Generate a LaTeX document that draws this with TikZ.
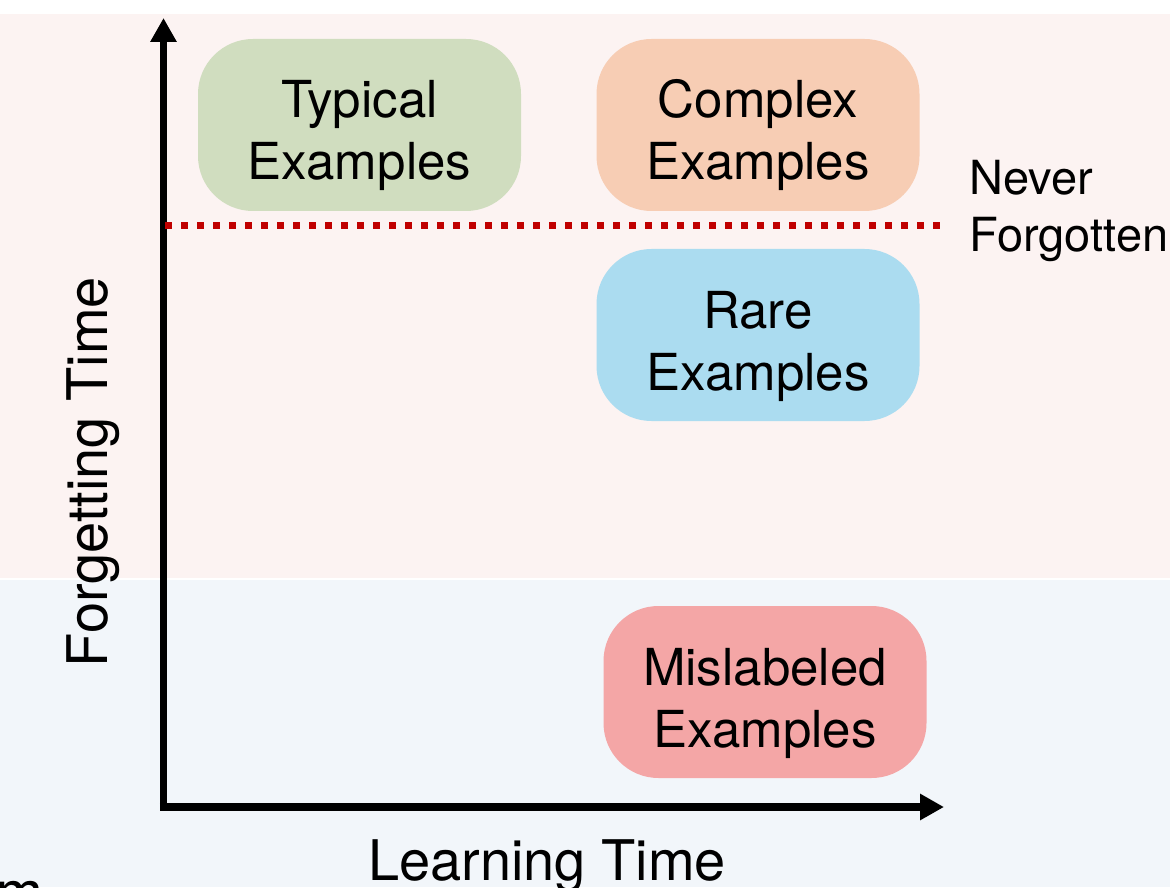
\documentclass[tikz,border=0pt]{standalone}
\usepackage{fontspec}
\setmainfont{TeX Gyre Heros}
\usetikzlibrary{arrows.meta}
\definecolor{bgpink}{HTML}{FCF3F2}
\definecolor{bgblue}{HTML}{F2F6FA}
\definecolor{cgreen}{HTML}{D0DDBF}
\definecolor{cpeach}{HTML}{F7CDB4}
\definecolor{cblue}{HTML}{ABDCF0}
\definecolor{cred}{HTML}{F4A6A6}
\definecolor{dotred}{HTML}{C00000}
\begin{document}
\begin{tikzpicture}[x=0.5pt,y=-0.5pt,
  box/.style={rounded corners=27.5pt, minimum width=161.5pt, minimum height=86pt,
    inner sep=0pt, align=center, font=\fontsize{25.5}{31}\selectfont,
    text height=55pt, text depth=0pt},
  axis/.style={line width=3.75pt, line join=miter, -{Triangle[length=12pt,width=12.5pt]}},
  axislabel/.style={font=\fontsize{28}{34}\selectfont, inner sep=0pt},
  sidelabel/.style={font=\fontsize{23.5}{28.5}\selectfont, align=left, inner sep=0pt},
  neverline/.style={dotred, line width=3.5pt, dash pattern=on 3.5pt off 4.5pt}]
\useasboundingbox (0,0) rectangle (1170,887);
\clip (0,0) rectangle (1170,887);
\fill[white] (0,0) rectangle (1170,887);
\fill[bgpink] (0,14) rectangle (1170,578);
\fill[bgblue] (0,580) rectangle (1170,887);

\node[box, fill=cgreen] (typical) at (359.5,125) {Typical\\Examples};
\node[box, fill=cpeach] (complex) at (758,125) {Complex\\Examples};
\node[box, fill=cblue] (rare) at (758,335) {Rare\\Examples};
\node[box, fill=cred] (mislabeled) at (765,692) {Mislabeled\\Examples};

\coordinate (o) at (163.5,807);
\coordinate (ytip) at (163.5,18);
\coordinate (xtip) at (944,807);
\draw[axis] (o) -- (ytip);
\draw[axis] ([xshift=-1.875pt]o) -- (xtip);

\coordinate (nl) at (165,226);
\coordinate (nr) at (940,226);
\draw[neverline] (nl) -- (nr);

\node[sidelabel, anchor=west] (never) at (969,211) {Never\\Forgotten};

\node[axislabel, anchor=base] (xlabel) at (547,880) {Learning Time};
\node[axislabel, anchor=base, rotate=90] (ylabel) at (107,472) {Forgetting Time};
\node[axislabel, anchor=base west] (m) at (-4,911) {m};
\end{tikzpicture}
\end{document}
